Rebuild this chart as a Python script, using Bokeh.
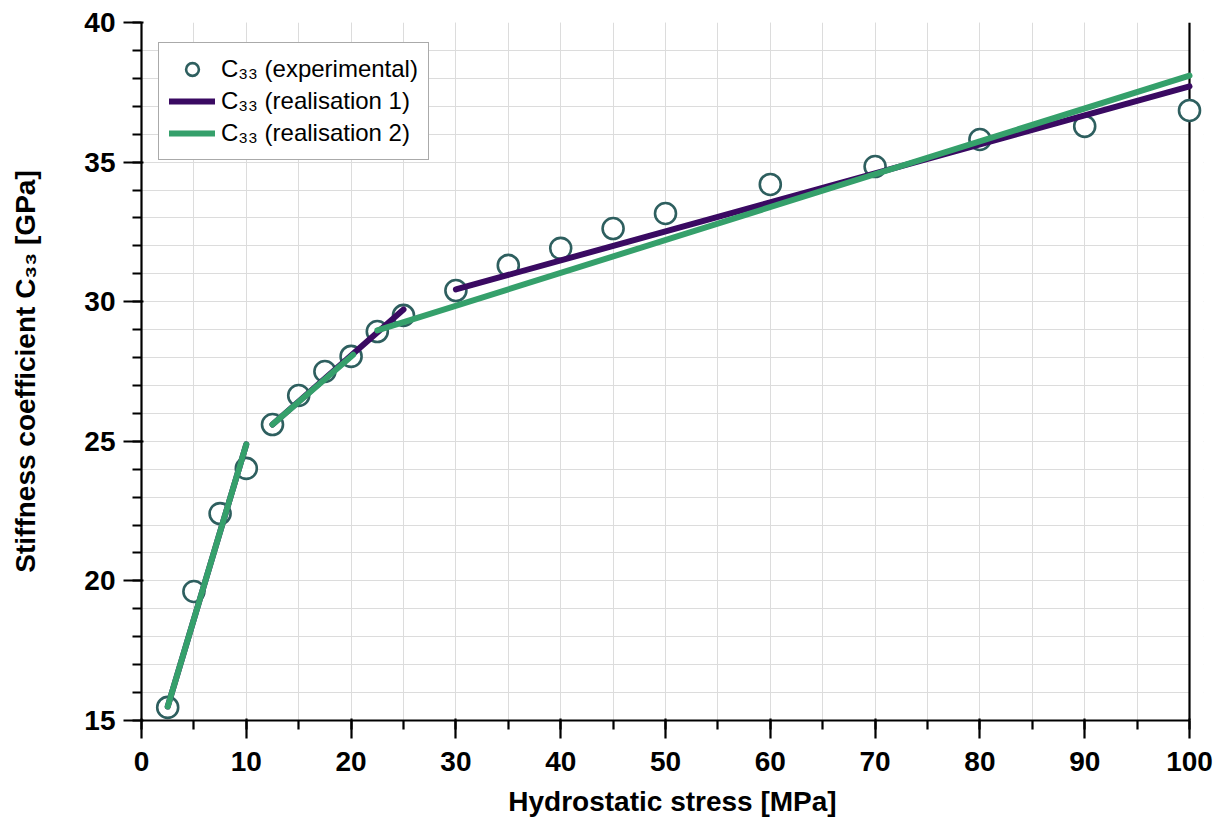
from bokeh.plotting import figure
from bokeh.models import (Range1d, Legend, LegendItem, Span, BoxAnnotation,
                          SingleIntervalTicker)
from bokeh.embed import file_html
from bokeh.resources import INLINE

# ---- data ----
stress = [2.5, 5, 7.5, 10, 12.5, 15, 17.5, 20, 22.5, 25, 30, 35, 40, 45, 50, 60, 70, 80, 90, 100]
c33_exp = [15.47, 19.62, 22.41, 24.03, 25.60, 26.64, 27.50, 28.04, 28.93, 29.51,
           30.40, 31.30, 31.91, 32.62, 33.16, 34.20, 34.84, 35.81, 36.28, 36.85]

real1_x = [[2.5, 10.0], [12.5, 25.0], [30.0, 100.0]]
real1_y = [[15.5, 24.89], [25.6, 29.72], [30.44, 37.71]]
real2_x = [[2.5, 10.0], [12.5, 20.2], [22.5, 100.0]]
real2_y = [[15.5, 24.89], [25.6, 28.1], [28.97, 38.10]]

x_ticks_major = 10
y_ticks_major = 5

FONT = "Liberation Sans"
PURPLE = "#3a0a62"
GREEN = "#35a06b"
MARK = "#2e5f5f"

left, right_px, top, bottom = 141, 19, 22, 101
W, H = 1222, 821
frame_w = W - left - right_px
px_per_unit = (1189 - 141) / 100.0
x_end = frame_w / px_per_unit

p = figure(width=W, height=H, x_range=Range1d(0, x_end), y_range=Range1d(15, 40),
           output_backend="svg", toolbar_location=None,
           min_border_left=left, min_border_right=right_px,
           min_border_top=top, min_border_bottom=bottom)
p.outline_line_color = None
p.background_fill_color = "white"

p.xaxis.ticker = SingleIntervalTicker(interval=x_ticks_major, num_minor_ticks=2)
p.yaxis.ticker = SingleIntervalTicker(interval=y_ticks_major, num_minor_ticks=5)
p.xaxis.bounds = (0, 100)
p.yaxis.bounds = (15, 40)

for ax in (p.xaxis[0], p.yaxis[0]):
    ax.axis_line_color = "black"
    ax.axis_line_width = 2.2
    ax.major_tick_line_color = "black"
    ax.major_tick_line_width = 2.2
    ax.minor_tick_line_color = "black"
    ax.minor_tick_line_width = 2.2
    ax.major_tick_out = 18
    ax.major_tick_in = 2
    ax.minor_tick_out = 9
    ax.minor_tick_in = 0
    ax.major_label_text_font = FONT
    ax.major_label_text_font_style = "bold"
    ax.major_label_text_font_size = "28px"
    ax.major_label_text_color = "black"
    ax.axis_label_text_font = FONT
    ax.axis_label_text_font_style = "bold"
    ax.axis_label_text_font_size = "28px"
    ax.axis_label_text_color = "black"

p.xaxis.major_label_standoff = 13
p.yaxis.major_label_standoff = 8
p.xaxis.axis_label = "Hydrostatic stress [MPa]"
p.yaxis.axis_label = "Stiffness coefficient C\u2083\u2083 [GPa]"
p.xaxis.axis_label_standoff = 12
p.yaxis.axis_label_standoff = 40

for g in (p.xgrid[0], p.ygrid[0]):
    g.grid_line_color = "#dcdcdc"
    g.grid_line_width = 1
    g.minor_grid_line_color = "#dcdcdc"
    g.minor_grid_line_width = 1

# white strip right of x=100 (hides grid overshoot), and right frame line
p.add_layout(BoxAnnotation(left=100, right=x_end + 5, fill_color="white", fill_alpha=1,
                           line_color=None, level="underlay"))
p.add_layout(Span(location=100, dimension="height", line_color="black",
                  line_width=2.2, level="underlay"))

r_exp = p.scatter(stress, c33_exp, marker="circle", size=21, fill_color="white",
                  line_color=MARK, line_width=2.6)
r1 = p.multi_line(real1_x, real1_y, line_color=PURPLE, line_width=6, line_cap="round")
r2 = p.multi_line(real2_x, real2_y, line_color=GREEN, line_width=6, line_cap="round")

legend = Legend(items=[
    LegendItem(label="C\u2083\u2083 (experimental)", renderers=[r_exp]),
    LegendItem(label="C\u2083\u2083 (realisation 1)", renderers=[r1]),
    LegendItem(label="C\u2083\u2083 (realisation 2)", renderers=[r2]),
], location=(17, 560))
legend.label_text_font = FONT
legend.label_text_font_size = "24px"
legend.label_text_color = "black"
legend.glyph_width = 46
legend.glyph_height = 32
legend.label_height = 32
legend.spacing = 0
legend.padding = 10
legend.margin = 0
legend.label_standoff = 6
legend.border_line_color = "#555555"
legend.border_line_width = 1.5
legend.background_fill_alpha = 1
p.add_layout(legend, "center")

open("out.html", "w").write(file_html(p, INLINE))
